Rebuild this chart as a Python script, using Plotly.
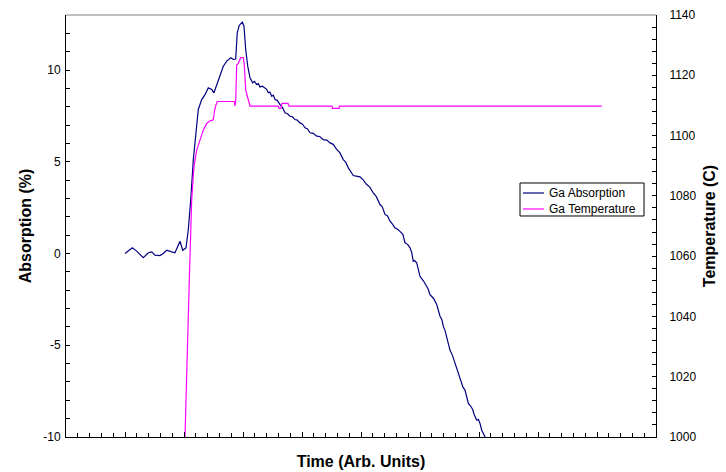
import plotly.graph_objects as go

# Ga absorption (%) versus time (arbitrary units)
abs_time = [10.00, 11.24, 11.98, 13.10, 13.95, 14.53, 15.08, 15.93, 16.49, 17.07,
            17.92, 18.47, 19.32, 19.78, 20.34, 20.73, 21.14, 21.58, 22.03, 22.42,
            23.00, 23.56, 24.12, 24.69, 25.08, 25.54, 26.10, 26.66, 27.24, 27.92,
            28.36, 28.76, 29.03, 29.37, 29.88, 30.17, 30.46, 30.80,
            31.19, 31.64, 31.95, 32.32, 32.60, 32.88, 33.30, 33.73, 34.00, 34.29,
            34.55, 34.86, 35.15, 35.42, 35.80, 36.27, 36.70, 37.12, 37.55, 37.97,
            38.40, 38.81, 39.20, 39.66, 40.10, 40.51, 40.90, 41.36, 41.90, 42.49,
            43.00, 43.61, 44.20, 44.75, 45.30, 45.88, 46.40, 47.00, 47.40, 47.85,
            48.25, 48.69, 49.20, 49.83, 50.40, 50.97, 51.50, 52.08, 52.60, 53.22,
            53.60, 54.07, 54.50, 54.92, 55.30, 55.76, 56.30, 56.90, 57.10, 57.46,
            57.90, 58.31, 58.60, 58.86, 59.10, 59.44, 59.70, 60.00, 60.60, 61.14,
            61.40, 61.69, 62.30, 62.83, 63.10, 63.39, 63.70, 63.95, 64.25, 64.53,
            64.80, 65.08, 65.50, 65.93, 66.20, 66.49, 66.80, 67.07, 67.30, 67.63,
            67.90, 68.19, 68.55, 68.93, 69.20, 69.61, 69.90, 70.17, 70.46, 71.19]
abs_value = [0.00, 0.31, 0.13, -0.23, 0.04, 0.09, -0.09, -0.11, 0.00, 0.18,
             0.09, 0.04, 0.67, 0.18, 0.31, 1.31, 2.94, 5.12, 6.58, 7.85,
             8.39, 8.66, 9.03, 8.94, 8.76, 9.21, 9.67, 10.21, 10.49, 10.67,
             10.58, 10.60, 12.04, 12.43, 12.61, 12.39, 11.12, 10.21,
             9.58, 9.30, 9.38, 9.21, 9.26, 9.08, 9.12, 9.03, 8.95, 8.76,
             8.80, 8.58, 8.62, 8.39, 8.35, 8.12, 7.95, 7.67, 7.62, 7.48,
             7.45, 7.30, 7.27, 7.12, 7.05, 6.85, 6.80, 6.58, 6.55, 6.40,
             6.38, 6.21, 6.18, 6.03, 5.95, 5.67, 5.50, 5.12, 4.98, 4.67,
             4.50, 4.25, 4.22, 4.18, 4.00, 3.76, 3.62, 3.30, 3.10, 2.67,
             2.55, 2.13, 2.05, 1.76, 1.62, 1.40, 1.30, 1.12, 1.05, 0.58,
             0.50, 0.31, 0.05, -0.42, -0.38, -0.51, -0.85, -1.24, -1.50, -1.78,
             -1.95, -2.24, -2.45, -2.78, -3.10, -3.42, -3.60, -3.97, -4.20, -4.51,
             -4.85, -5.26, -5.55, -5.98, -6.25, -6.53, -6.75, -7.08, -7.30, -7.44,
             -7.75, -8.17, -8.30, -8.50, -8.80, -9.08, -9.05, -9.26, -9.63, -10.10]

# Ga cell temperature (C) versus time
temp_time = [20.00, 20.17, 20.90, 21.30, 21.69, 22.15, 22.71, 23.27, 23.85, 24.41,
             24.97, 25.14, 25.42, 25.64, 28.53, 28.64, 28.76, 28.93, 29.20, 29.61,
             30.05, 30.22, 30.46, 30.73, 31.19, 35.98, 36.10, 36.44, 36.61, 37.63,
             37.80, 45.08, 45.17, 46.27, 46.36, 90.80]
temp_value = [997.0, 1000.0, 1052.0, 1078.6, 1089.7, 1095.2, 1098.5, 1101.8, 1104.0, 1104.9,
              1105.2, 1107.9, 1110.2, 1111.3, 1111.3, 1109.8, 1111.3, 1123.4, 1123.9, 1125.9,
              1125.9, 1123.4, 1115.1, 1112.9, 1109.8, 1109.8, 1109.0, 1109.0, 1110.7, 1110.7,
              1109.8, 1109.8, 1109.0, 1109.0, 1109.8, 1109.8]

left_ticks = [-10, -5, 0, 5, 10]
left_labels = ["-10", "-5", "0", "5", "10"]
right_ticks = [1000, 1020, 1040, 1060, 1080, 1100, 1120, 1140]

series_names = ["Ga Absorption", "Ga Temperature"]
series_colors = ["#000080", "#ff00ff"]

font_family = "Liberation Sans, Arial, sans-serif"

fig = go.Figure()
fig.add_trace(go.Scatter(x=abs_time, y=abs_value, mode="lines", name=series_names[0],
                         showlegend=False, line=dict(color=series_colors[0], width=1.2)))
fig.add_trace(go.Scatter(x=temp_time, y=temp_value, mode="lines", name=series_names[1],
                         yaxis="y2", showlegend=False,
                         line=dict(color=series_colors[1], width=1.2)))

axis_common = dict(showline=True, linecolor="black", linewidth=1, showgrid=False,
                   zeroline=False, ticks="inside", tickcolor="black", tickwidth=1,
                   automargin=False,
                   tickfont=dict(family=font_family, size=12, color="black"))
title_font = dict(family=font_family, size=16, color="black")

# Compact boxed legend drawn in paper coordinates
box_x0, box_x1, box_y0, box_y1 = 0.7695, 0.9797, 0.5237, 0.6019
sample_x0, sample_x1, text_x = 0.7746, 0.8102, 0.8153
row_y = [0.5782, 0.5403]

shapes = [dict(type="line", xref="paper", yref="paper", x0=0, x1=1, y0=1, y1=1,
               line=dict(color="#c0c0c0", width=2)),
          dict(type="rect", xref="paper", yref="paper", x0=box_x0, x1=box_x1,
               y0=box_y0, y1=box_y1, line=dict(color="black", width=1),
               fillcolor="white", layer="above")]
annotations = []
for name, color, yy in zip(series_names, series_colors, row_y):
    shapes.append(dict(type="line", xref="paper", yref="paper", x0=sample_x0, x1=sample_x1,
                       y0=yy, y1=yy, line=dict(color=color, width=1.2), layer="above"))
    annotations.append(dict(xref="paper", yref="paper", x=text_x, y=yy, text=name,
                            showarrow=False, xanchor="left", yanchor="middle",
                            font=dict(family=font_family, size=12, color="black")))

fig.update_layout(
    width=726, height=472,
    margin=dict(l=66, r=70, t=15, b=35),
    paper_bgcolor="white", plot_bgcolor="white",
    font=dict(family=font_family, color="black"),
    showlegend=False,
    xaxis=dict(range=[0, 100], dtick=10, tick0=0, ticklen=5, showticklabels=False,
               minor=dict(dtick=2, ticks="inside", ticklen=4, tickcolor="black"),
               title=dict(text="<b>Time (Arb. Units)</b>", font=title_font, standoff=18),
               **axis_common),
    yaxis=dict(range=[-10, 13], tickvals=left_ticks, ticktext=left_labels, ticklen=4,
               ticklabelstandoff=2,
               minor=dict(dtick=1, tick0=0, ticks="inside", ticklen=4, tickcolor="black"),
               title=dict(text="<b>Absorption (%)</b>", font=title_font, standoff=7),
               **axis_common),
    yaxis2=dict(range=[1000, 1140], tickvals=right_ticks, overlaying="y", side="right",
                ticklen=4, ticklabelstandoff=10,
                minor=dict(dtick=4, tick0=1000, ticks="inside", ticklen=4, tickcolor="black"),
                title=dict(text="<b>Temperature (C)</b>", font=title_font, standoff=8),
                **axis_common),
    shapes=shapes,
    annotations=annotations,
)

fig.write_html("out.html")
